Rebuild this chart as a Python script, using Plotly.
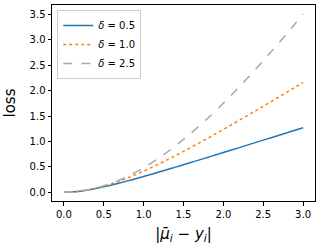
import plotly.graph_objects as go

x_vals = [0.0, 0.1, 0.2, 0.3, 0.4, 0.5, 0.6, 0.7, 0.8, 0.9, 1.0, 1.1, 1.2, 1.3, 1.4, 1.5,
          1.6, 1.7, 1.8, 1.9, 2.0, 2.1, 2.2, 2.3, 2.4, 2.5, 2.6, 2.7, 2.8, 2.9, 3.0]
loss_d05 = [0.0, 0.005, 0.019, 0.042, 0.070, 0.104, 0.141, 0.180, 0.222, 0.265, 0.309,
            0.354, 0.400, 0.446, 0.493, 0.541, 0.588, 0.636, 0.684, 0.732, 0.781, 0.829,
            0.878, 0.927, 0.976, 1.025, 1.074, 1.123, 1.172, 1.221, 1.271]
loss_d10 = [0.0, 0.005, 0.020, 0.044, 0.077, 0.118, 0.166, 0.221, 0.281, 0.345, 0.414,
            0.487, 0.562, 0.640, 0.720, 0.803, 0.887, 0.972, 1.059, 1.147, 1.236, 1.326,
            1.417, 1.508, 1.600, 1.693, 1.786, 1.879, 1.973, 2.068, 2.162]
loss_d25 = [0.0, 0.005, 0.020, 0.045, 0.079, 0.124, 0.177, 0.240, 0.312, 0.393, 0.481,
            0.578, 0.683, 0.795, 0.913, 1.039, 1.170, 1.308, 1.451, 1.600, 1.754, 1.912,
            2.075, 2.243, 2.414, 2.589, 2.767, 2.949, 3.134, 3.322, 3.513]
series_names = ["<i>δ</i> = 0.5", "<i>δ</i> = 1.0", "<i>δ</i> = 2.5"]
tick_vals = [0.0, 0.5, 1.0, 1.5, 2.0, 2.5, 3.0, 3.5]
tick_text = ["0.0", "0.5", "1.0", "1.5", "2.0", "2.5", "3.0", "3.5"]

fig = go.Figure()
styles = [("#1f77b4", "solid"), ("#ff7f0e", "dot"), ("#a9a9a9", "dash")]
for name, ys, (col, dash) in zip(series_names, [loss_d05, loss_d10, loss_d25], styles):
    fig.add_trace(go.Scatter(x=x_vals, y=ys, mode="lines", name=name,
                             line=dict(color=col, dash=dash, width=1.5, shape="spline")))

axis_common = dict(showgrid=False, zeroline=False, showline=True, linecolor="black",
                   linewidth=1, mirror=True, ticks="outside", ticklen=3.5,
                   tickcolor="black", automargin=False,
                   tickmode="array", tickvals=tick_vals, ticktext=tick_text,
                   tickfont=dict(family="DejaVu Sans", size=10, color="black"))

fig.update_layout(
    width=320, height=250,
    margin=dict(l=52, r=5, t=5, b=49),
    paper_bgcolor="white", plot_bgcolor="white",
    xaxis=dict(range=[-0.15, 3.15],
               title=dict(text="|<i>μ̄</i><sub><i>i</i></sub> − <i>y</i><sub><i>i</i></sub>|",
                          font=dict(family="DejaVu Sans", size=15, color="black"), standoff=9),
               **axis_common),
    yaxis=dict(range=[-0.175, 3.69],
               title=dict(text="loss", font=dict(family="DejaVu Sans", size=15, color="black"),
                          standoff=10),
               **axis_common),
    legend=dict(x=0.02, y=0.975, xanchor="left", yanchor="top",
                bgcolor="rgba(255,255,255,0.8)", bordercolor="#cccccc", borderwidth=1,
                font=dict(family="DejaVu Sans", size=10, color="black"),
                tracegroupgap=0, itemwidth=30),
    showlegend=True,
)

fig.write_html("out.html", config={"displayModeBar": False},
               post_script="document.body.style.margin='0';document.body.style.overflow='hidden';")
